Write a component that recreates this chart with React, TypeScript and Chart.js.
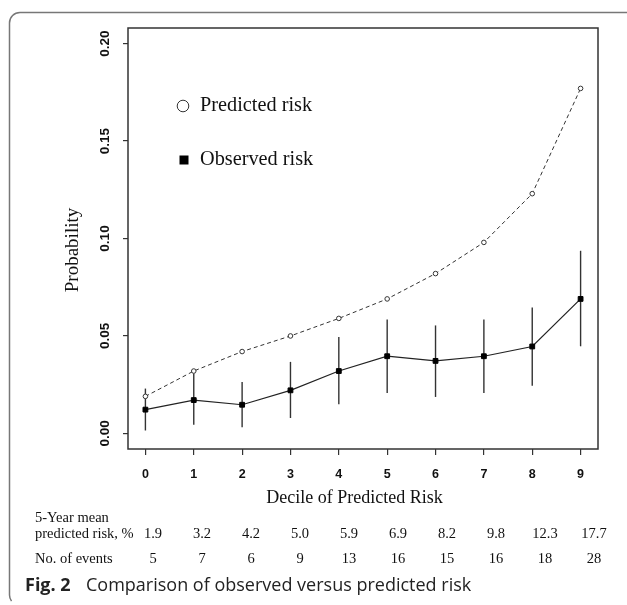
import React, { useEffect, useRef } from "react";
import { Chart, registerables } from "chart.js";

Chart.register(...registerables);

// ---- data ----
const deciles = [0, 1, 2, 3, 4, 5, 6, 7, 8, 9];
const predictedRisk = [0.019, 0.032, 0.042, 0.05, 0.059, 0.069, 0.082, 0.098, 0.123, 0.177];
const observedRisk = [0.0122, 0.0171, 0.0147, 0.0221, 0.032, 0.0396, 0.0372, 0.0396, 0.0446, 0.069];
const observedLower = [0.0015, 0.0045, 0.0032, 0.0079, 0.0149, 0.0207, 0.0187, 0.0207, 0.0245, 0.0447];
const observedUpper = [0.023, 0.0307, 0.0264, 0.0367, 0.0495, 0.0585, 0.0554, 0.0585, 0.0646, 0.0937];
const yTickValues = [0, 0.05, 0.1, 0.15, 0.2];
const meanPredictedLabels = ["1.9", "3.2", "4.2", "5.0", "5.9", "6.9", "8.2", "9.8", "12.3", "17.7"];
const eventCounts = ["5", "7", "6", "9", "13", "16", "15", "16", "18", "28"];
const legendLabels = ["Predicted risk", "Observed risk"];
const xTitle = "Decile of Predicted Risk";
const yTitle = "Probability";
const tableRowLabels = ["5-Year mean", "predicted risk, %", "No. of events"];
const captionBold = "Fig. 2";
const captionText = "Comparison of observed versus predicted risk";

const SERIF = '"Liberation Serif", "Times New Roman", serif';
const SANS = '"Liberation Sans", Arial, sans-serif';
const CAPTION = '"Open Sans", "Noto Sans", sans-serif';

export default function App() {
  const ref = useRef<HTMLCanvasElement | null>(null);

  useEffect(() => {
    document.body.style.margin = "0";
    const canvas = ref.current;
    if (!canvas) return;

    const overlay = {
      id: "overlay",
      beforeDatasetsDraw(chart: any) {
        const { ctx, chartArea: ca } = chart;
        ctx.save();
        ctx.strokeStyle = "#333";
        ctx.lineWidth = 1.5;
        ctx.strokeRect(ca.left, ca.top, ca.right - ca.left, ca.bottom - ca.top);
        ctx.restore();
      },
      afterDraw(chart: any) {
        const { ctx } = chart;
        ctx.save();
        // outer figure frame (top + left with rounded corner)
        ctx.strokeStyle = "#777";
        ctx.lineWidth = 1.5;
        ctx.beginPath();
        ctx.moveTo(627, 12.5);
        ctx.lineTo(20, 12.5);
        ctx.arcTo(9.5, 12.5, 9.5, 23, 10.5);
        ctx.lineTo(9.5, 595);
        ctx.arc(20, 595, 10.5, Math.PI, Math.PI * 0.8, true);
        ctx.stroke();

        // legend
        ctx.fillStyle = "#fff";
        ctx.strokeStyle = "#333";
        ctx.lineWidth = 1;
        ctx.beginPath();
        ctx.arc(183, 106, 5.8, 0, Math.PI * 2);
        ctx.fill();
        ctx.stroke();
        ctx.fillStyle = "#000";
        ctx.fillRect(179.5, 155.5, 9, 9);
        ctx.fillStyle = "#111";
        ctx.font = `20.3px ${SERIF}`;
        ctx.textAlign = "left";
        ctx.textBaseline = "alphabetic";
        ctx.fillText(legendLabels[0], 200, 111);
        ctx.fillText(legendLabels[1], 200, 164.5);

        // axis titles
        ctx.font = `18px ${SERIF}`;
        ctx.textAlign = "center";
        ctx.fillText(xTitle, 354.5, 503);
        ctx.save();
        ctx.translate(77.5, 250);
        ctx.rotate(-Math.PI / 2);
        ctx.font = `19px ${SERIF}`;
        ctx.fillText(yTitle, 0, 0);
        ctx.restore();

        // table under the axis
        ctx.font = `14.5px ${SERIF}`;
        ctx.textAlign = "left";
        ctx.fillText(tableRowLabels[0], 35, 521.5);
        ctx.fillText(tableRowLabels[1], 35, 538);
        ctx.fillText(tableRowLabels[2], 35, 562.5);
        ctx.textAlign = "center";
        deciles.forEach((d, i) => {
          const cx = 153 + 49 * d;
          ctx.fillText(meanPredictedLabels[i], cx, 538);
          ctx.fillText(eventCounts[i], cx, 562.5);
        });

        // caption
        ctx.textAlign = "left";
        ctx.fillStyle = "#222";
        ctx.font = `bold 18px ${CAPTION}`;
        ctx.fillText(captionBold, 25, 590.7);
        ctx.font = `18px ${CAPTION}`;
        ctx.fillText(captionText, 86, 590.7);
        ctx.restore();
      },
    };

    const chart = new Chart(canvas, {
      type: "line",
      data: {
        datasets: [
          {
            type: "bar",
            label: "95% CI",
            data: deciles.map((d, i) => ({ x: d, y: [observedLower[i], observedUpper[i]] })),
            backgroundColor: "#333",
            borderWidth: 0,
            barThickness: 1.4,
            inflateAmount: 0,
            grouped: false,
            order: 3,
          } as any,
          {
            label: legendLabels[1],
            data: deciles.map((d, i) => ({ x: d, y: observedRisk[i] })),
            borderColor: "#222",
            borderWidth: 1.2,
            pointStyle: "rect",
            pointRadius: 3.4,
            pointBackgroundColor: "#000",
            pointBorderColor: "#000",
            pointBorderWidth: 1,
            tension: 0,
            order: 1,
          },
          {
            label: legendLabels[0],
            data: deciles.map((d, i) => ({ x: d, y: predictedRisk[i] })),
            borderColor: "#333",
            borderWidth: 1,
            borderDash: [4, 3],
            pointStyle: "circle",
            pointRadius: 2.3,
            pointBackgroundColor: "#fff",
            pointBorderColor: "#333",
            pointBorderWidth: 1,
            tension: 0,
            order: 2,
          },
        ],
      },
      options: {
        responsive: false,
        animation: false,
        events: [],
        layout: { padding: { top: 28, right: 29, left: 0, bottom: 0 } },
        plugins: { legend: { display: false }, tooltip: { enabled: false } },
        scales: {
          x: {
            type: "linear",
            min: -0.36,
            max: 9.36,
            offset: false,
            afterBuildTicks: (s: any) => {
              s.ticks = deciles.map((v) => ({ value: v }));
            },
            afterFit: (s: any) => {
              s.height = 156;
            },
            ticks: {
              autoSkip: false,
              maxRotation: 0,
              padding: 12,
              color: "#111",
              font: { family: SANS, size: 12.5, weight: "bold" },
              callback: (v: any) => String(v),
            },
            grid: {
              display: true,
              offset: false,
              drawOnChartArea: false,
              drawTicks: true,
              tickLength: 6,
              color: "#333",
              lineWidth: 1.2,
            },
            border: { display: false },
          },
          y: {
            type: "linear",
            min: -0.008,
            max: 0.208,
            afterBuildTicks: (s: any) => {
              s.ticks = yTickValues.map((v) => ({ value: v }));
            },
            afterFit: (s: any) => {
              s.width = 128;
            },
            ticks: {
              autoSkip: false,
              minRotation: 90,
              maxRotation: 90,
              crossAlign: "center",
              padding: 5,
              color: "#111",
              font: { family: SANS, size: 13.5, weight: "bold" },
              callback: (v: any) => Number(v).toFixed(2),
            },
            grid: {
              display: true,
              offset: false,
              drawOnChartArea: false,
              drawTicks: true,
              tickLength: 5,
              color: "#333",
              lineWidth: 1.2,
            },
            border: { display: false },
          },
        },
      } as any,
      plugins: [overlay],
    });

    return () => chart.destroy();
  }, []);

  return <canvas ref={ref} width={627} height={605} style={{ display: "block" }} />;
}
